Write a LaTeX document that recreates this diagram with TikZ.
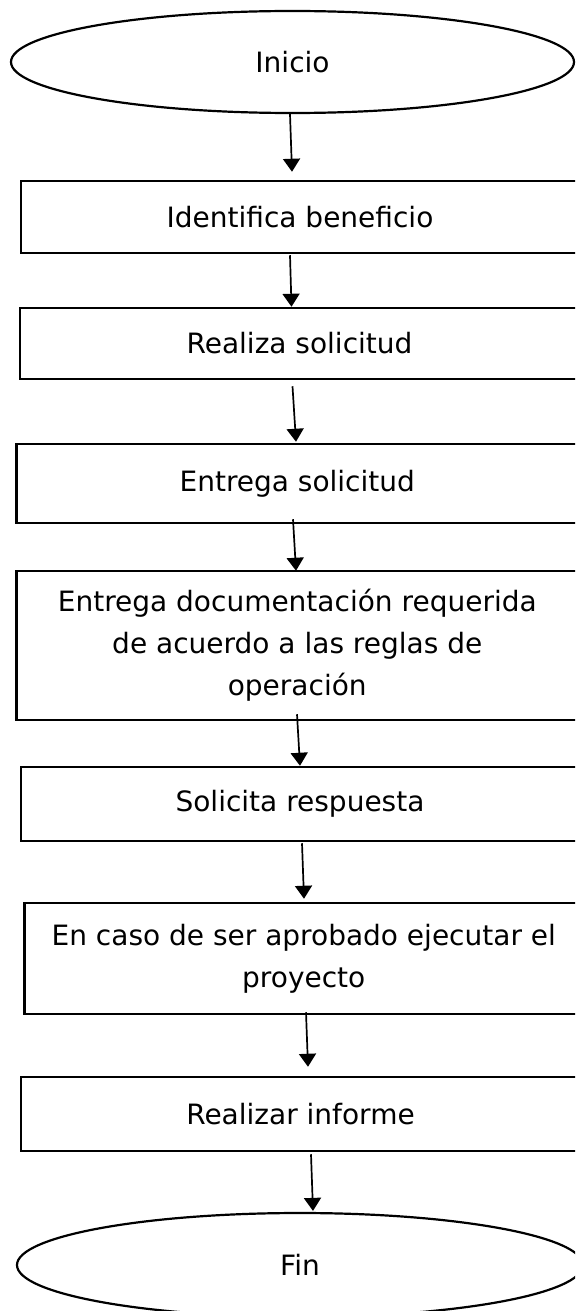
\documentclass[tikz,border=0pt]{standalone}
\usepackage{fontspec}
\setmainfont{DejaVu Sans}
\usetikzlibrary{arrows.meta,shapes.geometric,calc}
\tikzset{
  >={Triangle[width=8.5pt,length=6.5pt]},
  term/.style={ellipse,draw=black,line width=1.1pt,inner sep=0pt,font=\fontsize{14}{21}\selectfont},
  proc/.style={rectangle,draw=black,line width=1.25pt,inner sep=0pt,align=center,font=\fontsize{14}{21}\selectfont},
  flow/.style={->,line width=.85pt,draw=black}
}
\begin{document}
\begin{tikzpicture}[x=0.5pt,y=-0.5pt]
    \useasboundingbox (0,0) rectangle (575,1311);
    \clip (0,0) rectangle (575,1311);
    \node[term,minimum width=281.5pt,minimum height=51pt] (ini) at (292.5,62) {Inicio};
    \node[proc,minimum width=279pt,minimum height=36pt] (b1) at (300,217) {Identifica beneficio};
    \node[proc,minimum width=279.5pt,minimum height=35.5pt] (b2) at (299.5,343.5) {Realiza solicitud};
    \node[proc,minimum width=280.75pt,minimum height=39.5pt] (b3) at (297.25,483.5) {Entrega solicitud};
    \node[proc,minimum width=280.75pt,minimum height=74.5pt] (b4) at (297.25,645.5) {Entrega documentación requerida\\de acuerdo a las reglas de\\operación};
    \node[proc,minimum width=279pt,minimum height=37pt] (b5) at (300,804) {Solicita respuesta};
    \node[proc,minimum width=279.25pt,minimum height=55.5pt] (b6) at (303.75,958.5) {En caso de ser aprobado ejecutar el\\proyecto};
    \node[proc,minimum width=279.5pt,minimum height=37pt] (b7) at (300.5,1114) {Realizar informe};
    \node[term,minimum width=283pt,minimum height=52pt] (fin) at (300,1265) {Fin};
    % slightly slanted connectors, as in the hand-drawn original
    \draw[flow] ($(ini.south)+(-2.5,0)$) -- ($(b1.north)+(-8,-8)$);
    \draw[flow] ($(b1.south)+(-10,1)$) -- ($(b2.north)+(-8,0)$);
    \draw[flow] ($(b2.south)+(-7,6)$) -- ($(b3.north)+(-1.25,-1)$);
    \draw[flow] ($(b3.south)+(-4.25,-5)$) -- ($(b4.north)+(-1.25,1)$);
    \draw[flow] ($(b4.south)+(-0.25,-7)$) -- (b5.north);
    \draw[flow] ($(b5.south)+(2,1)$) -- ($(b6.north)+(0.25,-3)$);
    \draw[flow] ($(b6.south)+(2.25,-3)$) -- ($(b7.north)+(7.5,-9)$);
    \draw[flow] ($(b7.south)+(10.5,2)$) -- ($(fin.north)+(13,-1)$);
  \end{tikzpicture}
\end{document}
